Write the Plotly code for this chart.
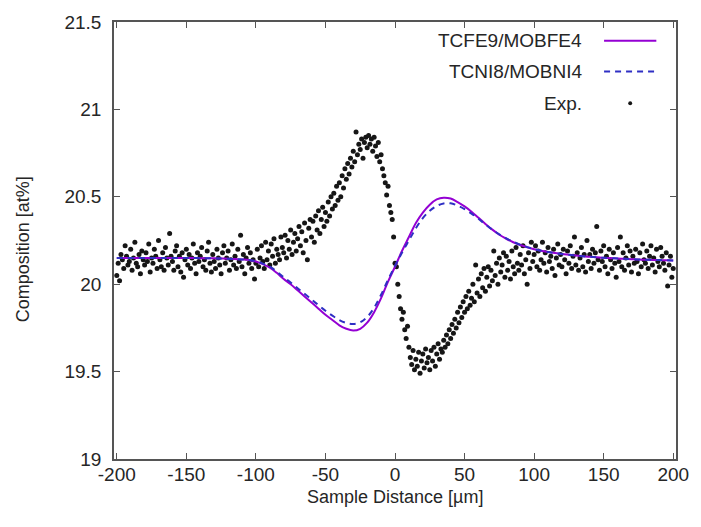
import plotly.graph_objects as go

# ---------------- data ----------------
exp_x = list(range(-200, 201))  # 1 µm sampling
exp_y = [
    # -200 .. -181
    20.05, 20.12, 20.02, 20.17, 20.14, 20.09, 20.22, 20.16, 20.11, 20.13, 20.20, 20.08, 20.15, 20.24, 20.12, 20.10, 20.17, 20.06, 20.19, 20.14,
    # -180 .. -161
    20.11, 20.18, 20.13, 20.23, 20.07, 20.15, 20.12, 20.20, 20.16, 20.09, 20.25, 20.14, 20.10, 20.18, 20.08, 20.21, 20.15, 20.11, 20.29, 20.16,
    # -160 .. -141
    20.13, 20.08, 20.19, 20.22, 20.10, 20.16, 20.07, 20.18, 20.04, 20.14, 20.20, 20.11, 20.17, 20.09, 20.15, 20.23, 20.12, 20.06, 20.18, 20.13,
    # -140 .. -121
    20.16, 20.21, 20.10, 20.14, 20.08, 20.19, 20.24, 20.12, 20.07, 20.17, 20.13, 20.09, 20.20, 20.15, 20.11, 20.06, 20.18, 20.22, 20.12, 20.15,
    # -120 .. -101
    20.19, 20.08, 20.14, 20.23, 20.11, 20.16, 20.09, 20.20, 20.13, 20.28, 20.10, 20.17, 20.06, 20.15, 20.21, 20.12, 20.18, 20.09, 20.14, 20.03,
    # -100 .. -81
    20.12, 20.20, 20.10, 20.15, 20.22, 20.13, 20.09, 20.24, 20.14, 20.19, 20.11, 20.23, 20.16, 20.26, 20.12, 20.20, 20.17, 20.14, 20.27, 20.21,
    # -80 .. -61
    20.18, 20.28, 20.15, 20.25, 20.20, 20.31, 20.17, 20.24, 20.29, 20.19, 20.26, 20.33, 20.22, 20.30, 20.18, 20.35, 20.25, 20.14, 20.32, 20.37,
    # -60 .. -41
    20.27, 20.36, 20.24, 20.39, 20.31, 20.42, 20.29, 20.37, 20.44, 20.33, 20.41, 20.36, 20.47, 20.39, 20.50, 20.43, 20.52, 20.45, 20.56, 20.48,
    # -40 .. -21
    20.58, 20.50, 20.62, 20.55, 20.66, 20.60, 20.69, 20.63, 20.72, 20.67, 20.76, 20.70, 20.87, 20.74, 20.80, 20.77, 20.83, 20.72, 20.81, 20.84,
    # -20 .. -1
    20.78, 20.85, 20.80, 20.83, 20.76, 20.84, 20.79, 20.73, 20.81, 20.70, 20.74, 20.66, 20.62, 20.58, 20.51, 20.56, 20.45, 20.41, 20.37, 20.27,
    # 0 .. 19
    20.12, 20.10, 20.00, 19.93, 19.86, 19.80, 19.84, 19.74, 19.69, 19.76, 19.64, 19.58, 19.54, 19.62, 19.51, 19.57, 19.53, 19.61, 19.49, 19.56,
    # 20 .. 39
    19.60, 19.52, 19.63, 19.55, 19.58, 19.51, 19.62, 19.56, 19.64, 19.53, 19.60, 19.66, 19.57, 19.63, 19.61, 19.68, 19.64, 19.71, 19.66, 19.74,
    # 40 .. 59
    19.69, 19.77, 19.72, 19.80, 19.75, 19.84, 19.78, 19.87, 19.81, 19.90, 19.84, 19.93, 19.86, 19.96, 19.88, 19.92, 20.00, 19.90, 20.11, 19.95,
    # 60 .. 79
    20.03, 19.93, 20.06, 19.98, 20.09, 19.96, 20.04, 20.10, 19.99, 20.08, 20.02, 20.19, 20.05, 20.12, 20.00, 20.15, 20.07, 20.11, 20.18, 20.04,
    # 80 .. 99
    20.16, 20.08, 20.13, 20.03, 20.19, 20.10, 20.06, 20.21, 20.12, 20.08, 20.17, 20.11, 20.22, 20.06, 20.14, 20.00, 20.18, 20.09, 20.24, 20.13,
    # 100 .. 119
    20.17, 20.22, 20.10, 20.19, 20.08, 20.14, 20.24, 20.12, 20.18, 20.07, 20.21, 20.13, 20.16, 20.09, 20.20, 20.05, 20.15, 20.23, 20.11, 20.17,
    # 120 .. 139
    20.10, 20.20, 20.14, 20.06, 20.19, 20.12, 20.22, 20.09, 20.16, 20.27, 20.11, 20.18, 20.08, 20.15, 20.21, 20.10, 20.17, 20.07, 20.25, 20.13,
    # 140 .. 159
    20.17, 20.09, 20.20, 20.12, 20.18, 20.33, 20.14, 20.08, 20.19, 20.13, 20.22, 20.10, 20.16, 20.06, 20.20, 20.14, 20.09, 20.18, 20.12, 20.04,
    # 160 .. 179
    20.21, 20.13, 20.27, 20.10, 20.18, 20.08, 20.15, 20.22, 20.11, 20.19, 20.07, 20.16, 20.12, 20.20, 20.13, 20.06, 20.18, 20.10, 20.23, 20.14,
    # 180 .. 200
    20.12, 20.19, 20.09, 20.16, 20.22, 20.11, 20.15, 20.07, 20.20, 20.13, 20.10, 20.21, 20.16, 20.12, 20.08, 20.18, 19.99, 20.11, 20.16, 20.04, 20.09,
]
assert len(exp_x) == len(exp_y)

calc_x = list(range(-200, 201, 5))
tcfe9_y = [
    20.150, 20.150, 20.150, 20.150, 20.150, 20.150, 20.150, 20.150, 20.150, 20.150,  # -200..-155
    20.150, 20.150, 20.149, 20.149, 20.148, 20.147, 20.146, 20.144, 20.142, 20.139,  # -150..-105
    20.130, 20.115, 20.095, 20.065, 20.030, 20.000, 19.965, 19.930, 19.895, 19.860,  # -100..-55
    19.825, 19.795, 19.765, 19.745, 19.735, 19.745, 19.780, 19.840, 19.920, 20.015,  # -50..-5
    20.100, 20.190, 20.270, 20.350, 20.410, 20.455, 20.485, 20.495, 20.490, 20.470,  # 0..45
    20.445, 20.415, 20.380, 20.345, 20.312, 20.283, 20.260, 20.240, 20.224, 20.211,  # 50..95
    20.200, 20.191, 20.184, 20.178, 20.173, 20.168, 20.164, 20.160, 20.157, 20.154,  # 100..145
    20.151, 20.149, 20.147, 20.145, 20.143, 20.141, 20.140, 20.139, 20.138, 20.137,  # 150..195
    20.136,                                                                          # 200
]
tcni8_y = [
    20.150, 20.150, 20.150, 20.150, 20.150, 20.150, 20.150, 20.150, 20.150, 20.150,
    20.150, 20.150, 20.149, 20.149, 20.148, 20.147, 20.146, 20.144, 20.142, 20.139,
    20.132, 20.118, 20.100, 20.072, 20.040, 20.010, 19.977, 19.945, 19.912, 19.880,
    19.848, 19.820, 19.795, 19.778, 19.772, 19.782, 19.812, 19.865, 19.940, 20.025,
    20.105, 20.180, 20.250, 20.320, 20.378, 20.420, 20.448, 20.462, 20.463, 20.450,
    20.430, 20.404, 20.374, 20.342, 20.312, 20.285, 20.262, 20.243, 20.226, 20.212,
    20.201, 20.192, 20.184, 20.178, 20.173, 20.168, 20.164, 20.160, 20.157, 20.154,
    20.151, 20.149, 20.147, 20.145, 20.143, 20.141, 20.140, 20.139, 20.138, 20.137,
    20.136,
]
assert len(calc_x) == len(tcfe9_y) == len(tcni8_y)

legend_names = ["TCFE9/MOBFE4", "TCNI8/MOBNI4", "Exp."]
x_ticks = [-200, -150, -100, -50, 0, 50, 100, 150, 200]
y_ticks = [19, 19.5, 20, 20.5, 21, 21.5]
y_tick_text = ["19", "19.5", "20", "20.5", "21", "21.5"]

# ---------------- styles ----------------
FONT = "Liberation Sans, Arial, sans-serif"
TXT = "#262626"
AXC = "#555555"
C_FE = "#9400d3"
C_NI = "#2f2fc4"

fig = go.Figure()
fig.add_trace(go.Scatter(x=exp_x, y=exp_y, mode="markers", name=legend_names[2],
                         marker=dict(color="#161616", size=5), showlegend=False))
fig.add_trace(go.Scatter(x=calc_x, y=tcfe9_y, mode="lines", name=legend_names[0],
                         line=dict(color=C_FE, width=2, shape="spline"), showlegend=False))
fig.add_trace(go.Scatter(x=calc_x, y=tcni8_y, mode="lines", name=legend_names[1],
                         line=dict(color=C_NI, width=2, dash="6px,5px", shape="spline"), showlegend=False))

axis_common = dict(showgrid=False, zeroline=False, showline=True, linecolor=AXC, linewidth=1.5,
                   mirror="ticks", ticks="inside", ticklen=6, tickcolor=AXC, tickwidth=1,
                   tickfont=dict(family=FONT, size=19, color=TXT))
fig.update_xaxes(range=[-202, 202], tickvals=x_ticks, ticktext=[str(v) for v in x_ticks],
                 ticklabelstandoff=-3, **axis_common)
fig.update_yaxes(range=[19, 21.5], tickvals=y_ticks, ticktext=y_tick_text,
                 ticklabelstandoff=7, **axis_common)

# custom gnuplot-style key (text right, sample left)
annotations = [
    dict(text="Sample Distance [µm]", x=0.5, y=-0.06, xref="paper", yref="paper",
         xanchor="center", yanchor="top", showarrow=False, font=dict(family=FONT, size=18, color=TXT)),
    dict(text="Composition [at%]", x=-0.162, y=0.48, xref="paper", yref="paper", textangle=-90,
         xanchor="center", yanchor="middle", showarrow=False, font=dict(family=FONT, size=18, color=TXT)),
]
shapes = []
key_y = [0.957, 0.887, 0.814]
for i, name in enumerate(legend_names):
    annotations.append(dict(text=name, x=0.836, y=key_y[i], xref="paper", yref="paper",
                            xanchor="right", yanchor="middle", showarrow=False,
                            font=dict(family=FONT, size=19, color=TXT)))
shapes.append(dict(type="line", xref="paper", yref="paper", x0=0.872, x1=0.965,
                   y0=key_y[0], y1=key_y[0], line=dict(color=C_FE, width=2)))
shapes.append(dict(type="line", xref="paper", yref="paper", x0=0.872, x1=0.965,
                   y0=key_y[1], y1=key_y[1], line=dict(color=C_NI, width=2, dash="6px,5px")))
shapes.append(dict(type="circle", xref="paper", yref="paper", x0=0.915, x1=0.922,
                   y0=key_y[2] - 0.0045, y1=key_y[2] + 0.0045, fillcolor="#161616", line=dict(width=0)))

fig.update_layout(width=701, height=527, margin=dict(l=114, r=20, t=19, b=68),
                  plot_bgcolor="white", paper_bgcolor="white",
                  annotations=annotations, shapes=shapes, showlegend=False)

fig.write_html("out.html")
